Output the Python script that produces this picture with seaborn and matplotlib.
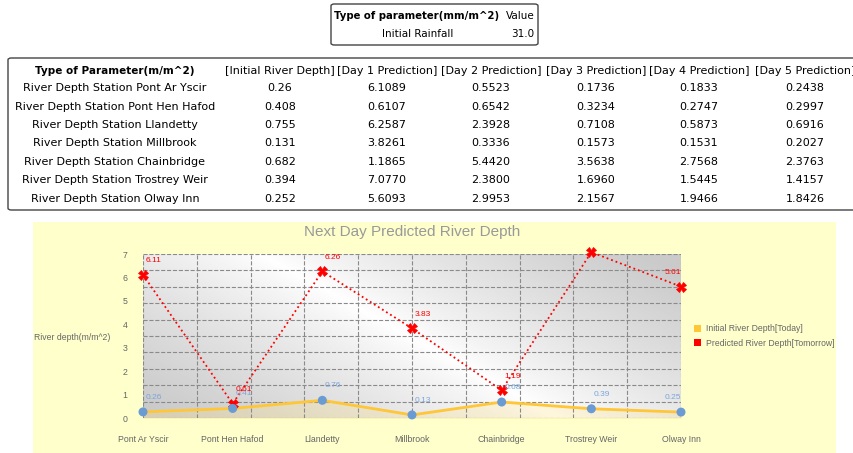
# River depth prediction dashboard: rainfall table, station table, next day chart

import numpy as np
import matplotlib
matplotlib.use("Agg")
import matplotlib.pyplot as plt
import seaborn as sns
from matplotlib.patches import FancyBboxPatch, Rectangle, Patch
from matplotlib.ticker import MultipleLocator


stations = ["Pont Ar Yscir", "Pont Hen Hafod", "Llandetty", "Millbrook",
            "Chainbridge", "Trostrey Weir", "Olway Inn"]
initial_depth = [0.26, 0.408, 0.755, 0.131, 0.682, 0.394, 0.252]
day1 = [6.1089, 0.6107, 6.2587, 3.8261, 1.1865, 7.0770, 5.6093]
day2 = [0.5523, 0.6542, 2.3928, 0.3336, 5.4420, 2.3800, 2.9953]
day3 = [0.1736, 0.3234, 0.7108, 0.1573, 3.5638, 1.6960, 2.1567]
day4 = [0.1833, 0.2747, 0.5873, 0.1531, 2.7568, 1.5445, 1.9466]
day5 = [0.2438, 0.2997, 0.6916, 0.2027, 2.3763, 1.4157, 1.8426]

rain_header = ["Type of parameter(mm/m^2)", "Value"]
rain_label = "Initial Rainfall"
rain_value = 31.0

table_header = ["Type of Parameter(m/m^2)", "[Initial River Depth]", "[Day 1 Prediction]",
                "[Day 2 Prediction]", "[Day 3 Prediction]", "[Day 4 Prediction]",
                "[Day 5 Prediction]"]

W, H = 854, 453
TABLE_FONT = "DejaVu Sans"
CHART_FONT = "Liberation Sans"


def fx(px):
    return px / W


def fy(py):
    return 1 - py / H


def fmt2(v):
    return f"{v + 1e-9:.2f}"


fig = plt.figure(figsize=(W / 100, H / 100), dpi=100)

# ---- rainfall table ----
fig.add_artist(FancyBboxPatch((fx(331), fy(45)), fx(207), 41 / H,
                              boxstyle="round,pad=0,rounding_size=0.004",
                              transform=fig.transFigure, facecolor="white",
                              edgecolor="#444444", linewidth=1))
fig.text(fx(334), fy(16), rain_header[0], ha="left", va="center", fontsize=7.3,
         fontweight="bold", family=TABLE_FONT)
fig.text(fx(535), fy(16), rain_header[1], ha="right", va="center", fontsize=7.5,
         family=TABLE_FONT)
fig.text(fx(418), fy(34), rain_label, ha="center", va="center", fontsize=7.5,
         family=TABLE_FONT)
fig.text(fx(534), fy(34), str(rain_value), ha="right", va="center", fontsize=7.5,
         family=TABLE_FONT)

# ---- station table ----
fig.add_artist(FancyBboxPatch((fx(8), fy(210)), fx(860), 152 / H,
                              boxstyle="round,pad=0,rounding_size=0.004",
                              transform=fig.transFigure, facecolor="white",
                              edgecolor="#444444", linewidth=1, clip_on=False))
col_x = [115, 280, 387, 491, 596, 699, 805]
for j, head in enumerate(table_header):
    fig.text(fx(col_x[j]), fy(71), head, ha="center", va="center",
             fontsize=7.5 if j == 0 else 8,
             fontweight="bold" if j == 0 else "normal", family=TABLE_FONT)
for i, st in enumerate(stations):
    y = 88 + 18.5 * i
    cells = ["River Depth Station " + st, str(initial_depth[i]),
             f"{day1[i]:.4f}", f"{day2[i]:.4f}", f"{day3[i]:.4f}",
             f"{day4[i]:.4f}", f"{day5[i]:.4f}"]
    for j, c in enumerate(cells):
        fig.text(fx(col_x[j]), fy(y), c, ha="center", va="center", fontsize=8,
                 family=TABLE_FONT)

# ---- chart panel ----
fig.add_artist(Rectangle((fx(33), 0), fx(836 - 33), 231 / H, transform=fig.transFigure,
                         facecolor="#FFFFCC", edgecolor="none", zorder=0))

ax = fig.add_axes([fx(143), 35 / H, 538 / W, 164 / H])
ax.set_facecolor("none")

# grey background with a diagonal light band
u, v = np.meshgrid(np.linspace(0, 1, 300), np.linspace(0, 1, 120))
px, py = u * 538, v * 164
p0 = np.array([0.22 * 538, 164.0])
d = np.array([0.55 * 538, -164.0])
d = d / np.linalg.norm(d)
dist = np.abs((px - p0[0]) * d[1] - (py - p0[1]) * d[0])
shade = 1 - 0.21 * np.clip(dist / 190, 0, 1) ** 0.8
ax.imshow(shade, cmap="gray", vmin=0, vmax=1, extent=[0, 1, 0, 1], origin="lower",
          transform=ax.transAxes, aspect="auto", zorder=0)

xpos = list(range(len(stations)))

ax.fill_between(xpos, initial_depth, color="#FFE27A", alpha=0.25, zorder=1)
sns.lineplot(x=xpos, y=initial_depth, color="#FFC637", linewidth=2, ax=ax, zorder=3)
sns.scatterplot(x=xpos, y=initial_depth, color="#6A9BD3", s=42, edgecolor="none",
                ax=ax, zorder=5, clip_on=False)
sns.lineplot(x=xpos, y=day1, color="red", linestyle=":", linewidth=1.3, marker="X",
             markersize=6.5, markeredgecolor="red", markeredgewidth=0.5, ax=ax,
             zorder=4, clip_on=False)

ax.set_xlim(0, len(stations) - 1)
ax.set_ylim(0, 7)

for i in xpos:
    ha = "right" if i == len(stations) - 1 else "left"
    dx = 0 if ha == "right" else 2
    ax.annotate(fmt2(initial_depth[i]), (i, initial_depth[i]), textcoords="offset points",
                xytext=(dx, 10.5), ha=ha, va="center", fontsize=6, color="#7BA6DB",
                family=CHART_FONT, zorder=6)
    dy = 10 if day1[i] < 6.5 else -3
    ax.annotate(fmt2(day1[i]), (i, day1[i]), textcoords="offset points",
                xytext=(dx, dy), ha=ha, va="center", fontsize=6, color="red",
                family=CHART_FONT, zorder=6)

ax.set_xticks(xpos)
ax.set_xticklabels(stations)
ax.set_yticks(range(8))
ax.xaxis.set_minor_locator(MultipleLocator(0.6))
ax.yaxis.set_minor_locator(MultipleLocator(0.7))
ax.xaxis.remove_overlapping_locs = False
ax.yaxis.remove_overlapping_locs = False
ax.grid(which="major", visible=False)
ax.grid(which="minor", linestyle="--", color="#8a8a8a", linewidth=0.8)
ax.tick_params(which="both", length=0, labelsize=6.3, labelcolor="#666666")
ax.tick_params(axis="x", pad=12)
ax.tick_params(axis="y", pad=11)
for lab in ax.get_xticklabels() + ax.get_yticklabels():
    lab.set_family(CHART_FONT)
for s in ax.spines.values():
    s.set_visible(False)

fig.text(fx(412), fy(232), "Next Day Predicted River Depth", ha="center", va="center",
         fontsize=11, color="#999999", family=CHART_FONT)
fig.text(fx(34), fy(337), "River depth(m/m^2)", ha="left", va="center",
         fontsize=6.2, color="#666666", family=CHART_FONT)

handles = [Patch(facecolor="#FFC637", edgecolor="none", label="Initial River Depth[Today]"),
           Patch(facecolor="red", edgecolor="none", label="Predicted River Depth[Tomorrow]")]
leg = fig.legend(handles=handles, loc="center left", bbox_to_anchor=(fx(686), fy(336)),
                 frameon=False, fontsize=6.2, labelcolor="#666666", handlelength=0.9,
                 handleheight=0.9, handletextpad=0.5, labelspacing=0.6)
for t in leg.get_texts():
    t.set_family(CHART_FONT)

fig.savefig("out.png", dpi=100)
